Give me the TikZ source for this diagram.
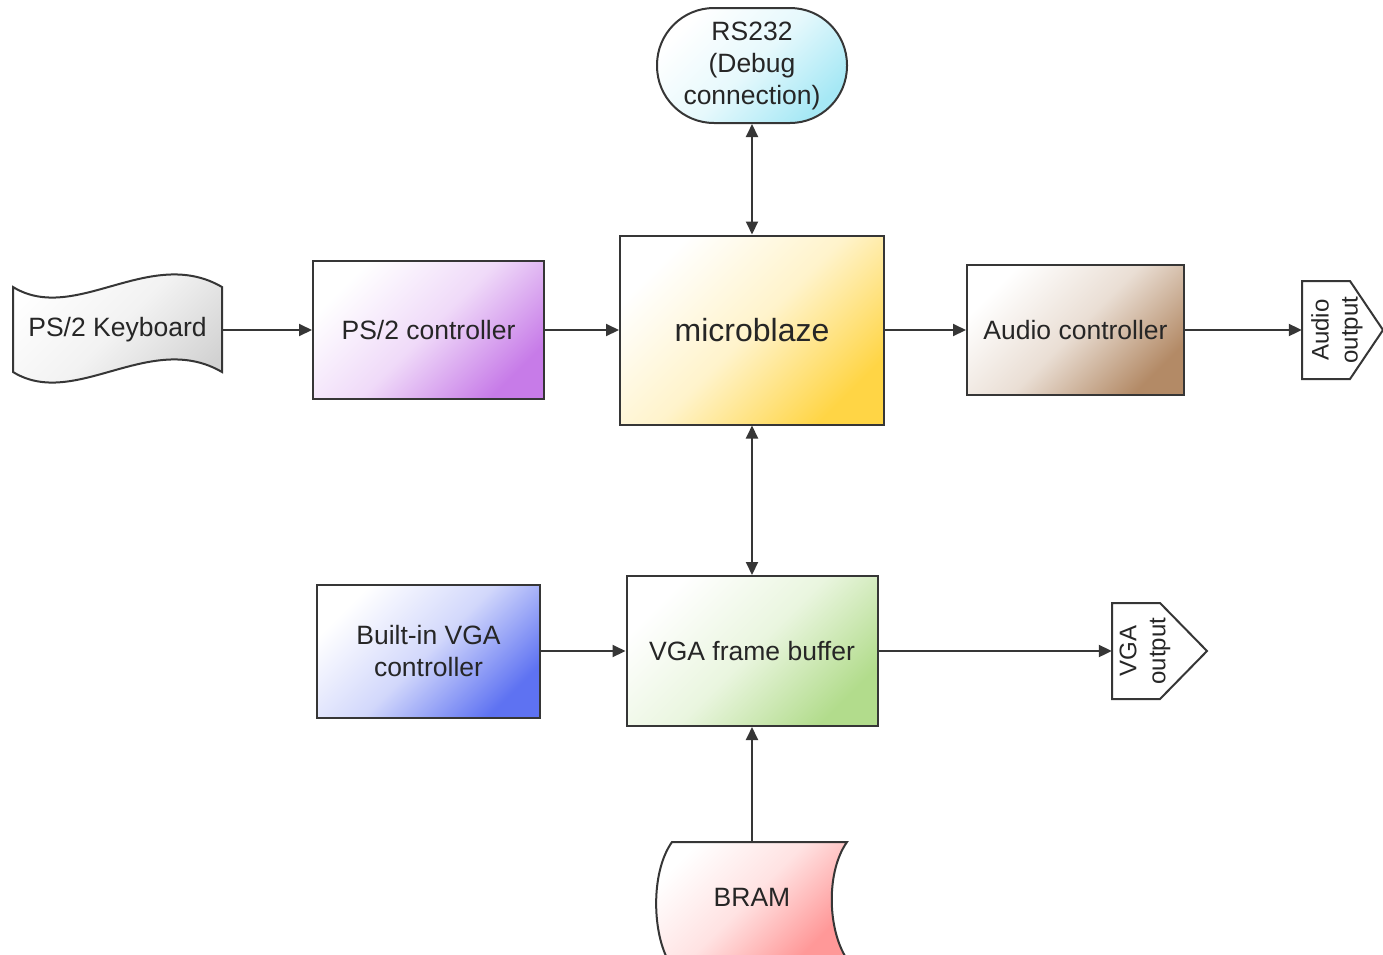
\documentclass[tikz,border=0pt]{standalone}
\usepackage{fontspec}
\setmainfont{Liberation Sans}
\usetikzlibrary{arrows.meta}
\definecolor{ln}{HTML}{363636}
\definecolor{tx}{HTML}{262626}
\definecolor{cRS}{HTML}{A6E8F5}
\definecolor{cKB}{HTML}{D2D2D2}
\definecolor{cPS}{HTML}{C77BE8}
\definecolor{cMB}{HTML}{FFD545}
\definecolor{cAU}{HTML}{B38A66}
\definecolor{cBV}{HTML}{5E72F2}
\definecolor{cFB}{HTML}{B2DC8C}
\definecolor{cBR}{HTML}{FF9898}
\begin{document}
\begin{tikzpicture}[x=1pt,y=-1pt,
  every node/.style={text=tx, font=\fontsize{26.5}{32}\selectfont, inner sep=0pt},
  grad/.style={top color=white, bottom color=#1, middle color=#1!28!white, shading angle=45},
  box/.style={draw=ln, line width=2pt, align=center},
  outl/.style={draw=ln, line width=2pt, line join=miter},
  conn/.style={draw=ln, line width=2pt, -{Triangle[length=13pt,width=12pt]}},
  bconn/.style={draw=ln, line width=2pt, {Triangle[length=13pt,width=12pt]}-{Triangle[length=13pt,width=12pt]}}]
\useasboundingbox (0,0) rectangle (1383,954);

% RS232 terminator
\node[box, grad=cRS, rounded corners=57pt, minimum width=190, minimum height=115] (rs) at (752,65.5) {RS232\\(Debug\\connection)};

% PS/2 Keyboard (wave shape)
\path[grad=cKB] (13,287) .. controls (75,325) and (150,245) .. (222,287) -- (222,372) .. controls (150,330) and (75,410) .. (13,372) -- cycle;
\draw[outl] (13,287) .. controls (75,325) and (150,245) .. (222,287) -- (222,372) .. controls (150,330) and (75,410) .. (13,372) -- cycle;
\node[minimum width=209, minimum height=85] (kb) at (117.5,330) {PS/2 Keyboard};

% boxes
\node[box, grad=cPS, minimum width=231, minimum height=138] (ps) at (428.5,330) {PS/2 controller};
\node[box, grad=cMB, minimum width=264, minimum height=189, font=\fontsize{32}{38}\selectfont] (mb) at (752,330) {microblaze};
\node[box, grad=cAU, minimum width=217, minimum height=130] (au) at (1075.5,330) {Audio controller};
\node[box, grad=cBV, minimum width=223, minimum height=133] (bv) at (428.5,651) {Built-in VGA\\controller};
\node[box, grad=cFB, minimum width=251, minimum height=150] (fb) at (752,651) {VGA frame buffer};

% Audio output (off-page)
\draw[outl, fill=white] (1302,281) -- (1350,281) -- (1383,330) -- (1350,379) -- (1302,379) -- cycle;
\node[minimum width=81, minimum height=98] (aout) at (1342.5,330) {};
\node[rotate=90, align=center, font=\fontsize{24}{29}\selectfont] (aoutl) at (1337,330) {Audio\\output};

% VGA output (off-page)
\draw[outl, fill=white] (1112,603) -- (1160,603) -- (1207,651) -- (1160,699) -- (1112,699) -- cycle;
\node[minimum width=95, minimum height=96] (vout) at (1159.5,651) {};
\node[rotate=90, align=center, font=\fontsize{24}{29}\selectfont] (voutl) at (1145,651) {VGA\\output};

% BRAM (stored data)
\path[grad=cBR] (672,842) -- (847,842) .. controls (827,870) and (827,925) .. (845,956) -- (666,956) .. controls (652,925) and (652,870) .. (672,842) -- cycle;
\draw[outl] (666,956) .. controls (652,925) and (652,870) .. (672,842) -- (847,842) .. controls (827,870) and (827,925) .. (845,956);
\node[minimum width=180, minimum height=110] (bram) at (752,897) {BRAM};

% connectors
\draw[conn] (kb.east) -- (ps.west);
\draw[conn] (ps.east) -- (mb.west);
\draw[conn] (mb.east) -- (au.west);
\draw[conn] (au.east) -- (aout.west);
\draw[bconn] (rs.south) -- (mb.north);
\draw[bconn] (mb.south) -- (fb.north);
\draw[conn] (bv.east) -- (fb.west);
\draw[conn] (fb.east) -- (vout.west);
\draw[conn] (bram.north) -- (fb.south);
\end{tikzpicture}
\end{document}
